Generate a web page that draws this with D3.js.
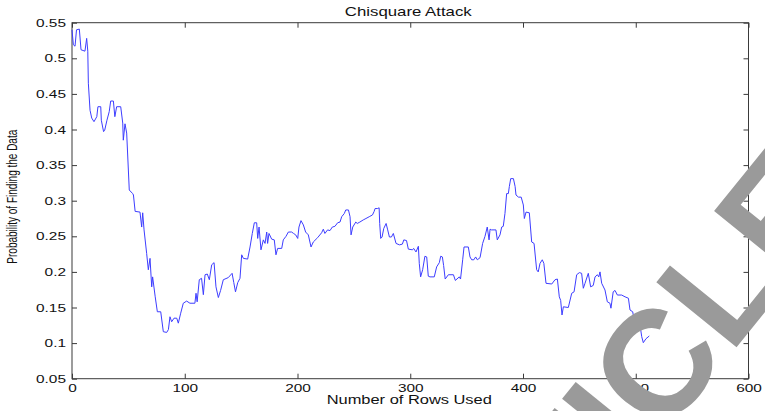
<!DOCTYPE html>
<html>
<head>
<meta charset="utf-8">
<script src="https://cdn.jsdelivr.net/npm/d3@7"></script>
<style>
  body { margin: 0; background: #fff; }
  svg text { font-family: "Liberation Sans", Arial, sans-serif; fill: #111; }
</style>
</head>
<body>
<div id="chart"></div>
<script>
// values
const rows = [0, 1.2, 2.7, 4, 6.5, 8, 11.5, 13, 14, 14.5, 16, 17.5, 19.5, 22, 23, 25.5, 26, 28, 29, 31,
  33, 34.3, 36.7, 38, 39.6, 43.2, 45, 45.5, 47, 48.5, 50.8, 53.8, 54.5, 56, 60.3, 61.8, 62.7, 63.9, 66.2, 67.7,
  69.2, 70.7, 71.5, 73.8, 75.7, 78.7, 81, 84, 85.5, 86.9, 88.4, 90.5, 92.9, 94.3, 96.4, 98.7, 101.7, 104.6, 109, 110,
  111, 112.9, 114.9, 116.5, 118, 120, 121.8, 123.9, 126, 127.7, 129.8, 131.8, 134.2, 138.6, 142, 143.5, 145, 147, 149, 150.5,
  152, 155.8, 157.9, 159.9, 161.7, 163.8, 164.7, 165.9, 167.6, 169.7, 171.2, 172.7, 173.5, 174.7, 177.1, 179.4, 180.9, 182.4, 186, 187.4,
  189.8, 191.9, 194.8, 196.5, 198.4, 200.2, 201.3, 203.1, 205.2, 207.2, 209.6, 212, 214, 217.8, 221.4, 222.9, 224.3, 226.7, 228.8, 230.9,
  233.2, 235.6, 237.7, 239.2, 241.5, 242.8, 245.2, 246.6, 247.5, 249, 251.7, 253, 255.3, 258.3, 260.7, 263.6, 266.5, 268, 268.8, 270.9,
  272.4, 272.9, 273.8, 275, 276.5, 278.6, 280, 281.5, 283.3, 285, 287.4, 290.4, 293, 294.3, 296.7, 298.3, 302, 303, 305.1, 307.2,
  308, 309.2, 311, 313, 314.6, 316, 317.5, 321.3, 323.4, 325.8, 327, 328.5, 329.6, 331, 333.8, 338.3, 340, 343.5, 344.6, 346.5,
  347.7, 351.5, 353, 354.5, 356.4, 358, 359.5, 361.9, 364.2, 366.3, 368.3, 369.9, 370.8, 372, 376, 377.2, 379.6, 381.1, 382.5, 384,
  385.5, 387, 387.9, 389.1, 391.5, 393, 393.8, 396, 398.4, 400.3, 401.2, 402.7, 405.6, 407.7, 409.8, 412.1, 413.5, 415.1, 417.1, 418.5,
  420.4, 425.5, 428.4, 430.5, 432.2, 433.4, 434.6, 435.8, 440.2, 443.2, 445.3, 447.6, 450, 452, 453.5, 455, 457.9, 460, 462.3, 463.9,
  466, 467.2, 468.3, 469.8, 472.7, 474.8, 477.1, 478, 480, 481.6, 483.7, 487.5, 490.5, 493.5, 494.9, 497.3, 499.4, 502.3, 503.8, 505.3,
  506.7, 509, 512];

const prob = [0.540, 0.519, 0.517, 0.540, 0.541, 0.512, 0.510, 0.528, 0.510, 0.465, 0.427, 0.416, 0.411, 0.418, 0.432, 0.432, 0.413, 0.397, 0.399, 0.413,
  0.425, 0.440, 0.440, 0.418, 0.432, 0.432, 0.409, 0.385, 0.408, 0.395, 0.315, 0.310, 0.308, 0.285, 0.284, 0.263, 0.283, 0.259, 0.226, 0.203,
  0.219, 0.179, 0.193, 0.165, 0.144, 0.144, 0.116, 0.115, 0.119, 0.137, 0.130, 0.135, 0.135, 0.128, 0.142, 0.156, 0.159, 0.156, 0.156, 0.170,
  0.158, 0.189, 0.191, 0.168, 0.196, 0.197, 0.189, 0.210, 0.213, 0.179, 0.164, 0.174, 0.189, 0.192, 0.198, 0.185, 0.172, 0.185, 0.191, 0.224,
  0.219, 0.218, 0.235, 0.254, 0.269, 0.269, 0.247, 0.263, 0.231, 0.245, 0.240, 0.256, 0.240, 0.254, 0.246, 0.245, 0.224, 0.233, 0.233, 0.245,
  0.250, 0.256, 0.256, 0.254, 0.252, 0.247, 0.263, 0.272, 0.266, 0.256, 0.252, 0.235, 0.242, 0.248, 0.255, 0.260, 0.254, 0.259, 0.258, 0.263,
  0.264, 0.269, 0.270, 0.2775, 0.282, 0.287, 0.287, 0.2775, 0.252, 0.263, 0.270, 0.268, 0.270, 0.273, 0.275, 0.2775, 0.280, 0.285, 0.289, 0.289,
  0.290, 0.268, 0.247, 0.249, 0.261, 0.268, 0.259, 0.249, 0.249, 0.254, 0.240, 0.238, 0.239, 0.245, 0.244, 0.232, 0.231, 0.233, 0.228, 0.236,
  0.212, 0.193, 0.203, 0.222, 0.221, 0.194, 0.193, 0.193, 0.207, 0.213, 0.222, 0.221, 0.209, 0.190, 0.196, 0.196, 0.188, 0.193, 0.190, 0.217,
  0.235, 0.235, 0.221, 0.217, 0.217, 0.221, 0.217, 0.220, 0.240, 0.250, 0.263, 0.245, 0.260, 0.259, 0.259, 0.245, 0.252, 0.263, 0.264, 0.282,
  0.310, 0.310, 0.320, 0.331, 0.331, 0.320, 0.308, 0.305, 0.305, 0.294, 0.275, 0.284, 0.283, 0.242, 0.240, 0.203, 0.200, 0.212, 0.217, 0.212,
  0.184, 0.183, 0.189, 0.190, 0.165, 0.160, 0.1395, 0.151, 0.150, 0.170, 0.172, 0.196, 0.199, 0.198, 0.177, 0.184, 0.198, 0.179, 0.181, 0.193,
  0.196, 0.193, 0.200, 0.184, 0.1746, 0.158, 0.156, 0.149, 0.172, 0.174, 0.1675, 0.1675, 0.165, 0.163, 0.1465, 0.144, 0.125, 0.124, 0.125, 0.109,
  0.1006, 0.106, 0.110];

const xTicks = [0, 100, 200, 300, 400, 500, 600];
const yTicks = [0.05, 0.1, 0.15, 0.2, 0.25, 0.3, 0.35, 0.4, 0.45, 0.5, 0.55];
const yTickLabels = ["0.05", "0.1", "0.15", "0.2", "0.25", "0.3", "0.35", "0.4", "0.45", "0.5", "0.55"];

const width = 765;
const height = 411;
const plotLeft = 72, plotRight = 748.5, plotTop = 22.7, plotBottom = 378.7;
const stretch = 1.4; // reference text is stretched horizontally

const svg = d3.select("#chart")
    .append("svg")
    .attr("width", width)
    .attr("height", height);

const x = d3.scaleLinear().domain([0, 600]).range([plotLeft, plotRight]);
const y = d3.scaleLinear().domain([0.05, 0.55]).range([plotBottom, plotTop]);

// box
svg.append("rect")
    .attr("x", plotLeft)
    .attr("y", plotTop)
    .attr("width", plotRight - plotLeft)
    .attr("height", plotBottom - plotTop)
    .attr("fill", "none")
    .attr("stroke", "#3a3a3a")
    .attr("stroke-width", 1);

// axes, ticks point inward
const xAxis = svg.append("g")
    .attr("transform", `translate(0,${plotBottom})`)
    .call(d3.axisBottom(x).tickValues(xTicks).tickSize(-5).tickPadding(5).tickFormat(d3.format("d")));

const yAxis = svg.append("g")
    .attr("transform", `translate(${plotLeft},0)`)
    .call(d3.axisLeft(y).tickValues(yTicks).tickSize(-5).tickPadding(6).tickFormat((d, i) => yTickLabels[i]));

svg.append("g")
    .attr("transform", `translate(0,${plotTop})`)
    .call(d3.axisTop(x).tickValues(xTicks).tickSize(-5).tickFormat(""));

svg.append("g")
    .attr("transform", `translate(${plotRight},0)`)
    .call(d3.axisRight(y).tickValues(yTicks).tickSize(-5).tickFormat(""));

svg.selectAll(".domain").remove();
svg.selectAll(".tick line").attr("stroke", "#3a3a3a");

xAxis.selectAll("text")
    .attr("font-size", 11)
    .attr("fill", "#111")
    .attr("transform", `scale(${stretch},1)`);

yAxis.selectAll("text")
    .attr("font-size", 11)
    .attr("fill", "#111")
    .attr("x", -6 / stretch)
    .attr("transform", `scale(${stretch},1)`);

// the series
const line = d3.line()
    .x((d, i) => x(rows[i]))
    .y(d => y(d));

svg.append("path")
    .datum(prob)
    .attr("d", line)
    .attr("fill", "none")
    .attr("stroke", "#3d3dff")
    .attr("stroke-width", 1)
    .attr("stroke-linejoin", "round");

// titles
svg.append("text")
    .attr("transform", `translate(${(plotLeft + plotRight) / 2 - 2},16) scale(${stretch},1)`)
    .attr("text-anchor", "middle")
    .attr("font-size", 12)
    .text("Chisquare Attack");

svg.append("text")
    .attr("transform", `translate(${(plotLeft + plotRight) / 2 - 1},404) scale(1.37,1)`)
    .attr("text-anchor", "middle")
    .attr("font-size", 12)
    .text("Number of Rows Used");

svg.append("text")
    .attr("transform", `translate(17,${(plotTop + plotBottom) / 2 - 4}) scale(${stretch},1) rotate(-90)`)
    .attr("text-anchor", "middle")
    .attr("font-size", 10)
    .text("Probability of Finding the Data");

// watermark in the corner
svg.append("text")
    .attr("transform", "translate(851,206) rotate(-51)")
    .attr("text-anchor", "end")
    .attr("font-family", "Liberation Serif, serif")
    .attr("font-weight", "bold")
    .attr("font-size", 150)
    .style("fill", "#9a9a9a")
    .text("ARTICLE");
</script>
</body>
</html>
